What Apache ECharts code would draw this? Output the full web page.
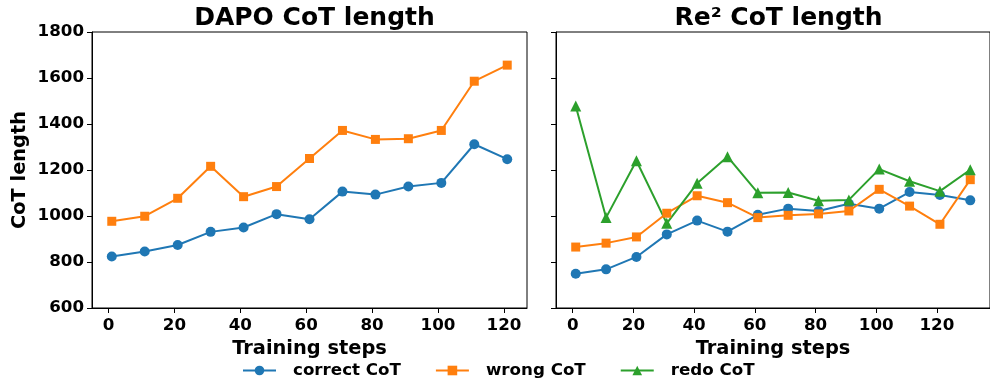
<!DOCTYPE html>
<html>
<head>
<meta charset="utf-8">
<script src="https://cdn.jsdelivr.net/npm/echarts@6/dist/echarts.min.js"></script>
<style>
html,body{margin:0;padding:0;background:#fff;}
#chart{width:990px;height:381px;}
</style>
</head>
<body>
<div id="chart"></div>
<script>
// ---- data ----
const dapoSteps = [1, 11, 21, 31, 41, 51, 61, 71, 81, 91, 101, 111, 121];
const dapoCorrect = [824, 846, 874, 931, 950, 1008, 986, 1106, 1093, 1128, 1144, 1312, 1247];
const dapoWrong = [977, 999, 1077, 1216, 1084, 1128, 1250, 1372, 1333, 1336, 1372, 1586, 1656];

const re2Steps = [1, 11, 21, 31, 41, 51, 61, 71, 81, 91, 101, 111, 121, 131];
const re2Correct = [749, 768, 822, 920, 980, 932, 1005, 1032, 1022, 1053, 1032, 1104, 1091, 1068];
const re2Wrong = [865, 882, 909, 1012, 1088, 1058, 993, 1003, 1009, 1022, 1116, 1043, 964, 1158];
const re2Redo = [1478, 993, 1240, 968, 1142, 1258, 1101, 1102, 1066, 1070, 1204, 1151, 1108, 1201];

const xTicksLeft = [0, 20, 40, 60, 80, 100, 120];
const xTicksRight = [0, 20, 40, 60, 80, 100, 120];
const titles = ['DAPO CoT length', 'Re\u00b2 CoT length'];
const seriesNames = ['correct CoT', 'wrong CoT', 'redo CoT'];

// ---- chart ----
const FONT = 'DejaVu Sans';
const BLUE = '#1f77b4', ORANGE = '#ff7f0e', GREEN = '#2ca02c';
const chart = echarts.init(document.getElementById('chart'), null, {renderer: 'canvas'});

function zip(xs, ys) { return xs.map((x, i) => [x, ys[i]]); }

function xAxis(idx, min, max, ticks) {
  return {
    type: 'value', gridIndex: idx, min: min, max: max,
    name: 'Training steps', nameLocation: 'middle', nameGap: 31,
    nameTextStyle: {fontFamily: FONT, fontWeight: 'bold', fontSize: 19.4, color: '#000'},
    axisLine: {show: true, onZero: false, lineStyle: {color: '#000', width: 1}},
    axisTick: {show: true, inside: false, length: 5, customValues: ticks, lineStyle: {color: '#000', width: 1}},
    axisLabel: {show: true, margin: 9, customValues: ticks, formatter: v => String(v),
      fontFamily: FONT, fontWeight: 'bold', fontSize: 16.7, color: '#000'},
    splitLine: {show: false}
  };
}
function yAxis(idx, showLabel) {
  return {
    type: 'value', gridIndex: idx, min: 600, max: 1800, interval: 200,
    name: showLabel ? 'CoT length' : '', nameLocation: 'middle', nameGap: 63, nameRotate: 90,
    nameTextStyle: {fontFamily: FONT, fontWeight: 'bold', fontSize: 19.4, color: '#000'},
    axisLine: {show: true, onZero: false, lineStyle: {color: '#000', width: 1}},
    axisTick: {show: true, inside: false, length: 5, lineStyle: {color: '#000', width: 1}},
    axisLabel: {show: showLabel, margin: 8, formatter: v => String(v),
      fontFamily: FONT, fontWeight: 'bold', fontSize: 16.7, color: '#000'},
    splitLine: {show: false}
  };
}
function line(name, xi, data, color, symbol, size) {
  return {
    name: name, type: 'line', xAxisIndex: xi, yAxisIndex: xi, data: data,
    symbol: symbol, symbolSize: size, showSymbol: true,
    lineStyle: {color: color, width: 2}, itemStyle: {color: color},
    emphasis: {disabled: true}, animation: false
  };
}

const option = {
  backgroundColor: '#fff',
  animation: false,
  title: [
    {text: titles[0], left: 309.5, top: 1, textAlign: 'center',
     textStyle: {fontFamily: FONT, fontWeight: 'bold', fontSize: 25, color: '#000'}},
    {text: titles[1], left: 773.5, top: 1, textAlign: 'center',
     textStyle: {fontFamily: FONT, fontWeight: 'bold', fontSize: 25, color: '#000'}}
  ],
  legend: {
    data: seriesNames, left: 237, top: 357, itemWidth: 33, itemHeight: 12, itemGap: 34,
    textStyle: {fontFamily: FONT, fontWeight: 'bold', fontSize: 16.7, color: '#000', padding: [0, 0, 0, 12]}
  },
  grid: [
    {left: 92, top: 32, width: 435, height: 276, show: true, borderColor: '#000', borderWidth: 1, backgroundColor: 'transparent'},
    {left: 556, top: 32, width: 435, height: 276, show: true, borderColor: '#000', borderWidth: 1, backgroundColor: 'transparent'}
  ],
  xAxis: [xAxis(0, -5, 127, xTicksLeft), xAxis(1, -5.5, 137.5, xTicksRight)],
  yAxis: [yAxis(0, true), yAxis(1, false)],
  series: [
    line(seriesNames[0], 0, zip(dapoSteps, dapoCorrect), BLUE, 'circle', 10),
    line(seriesNames[1], 0, zip(dapoSteps, dapoWrong), ORANGE, 'rect', 9),
    line(seriesNames[0], 1, zip(re2Steps, re2Correct), BLUE, 'circle', 10),
    line(seriesNames[1], 1, zip(re2Steps, re2Wrong), ORANGE, 'rect', 9),
    line(seriesNames[2], 1, zip(re2Steps, re2Redo), GREEN, 'triangle', 11)
  ]
};
chart.setOption(option);
</script>
</body>
</html>
